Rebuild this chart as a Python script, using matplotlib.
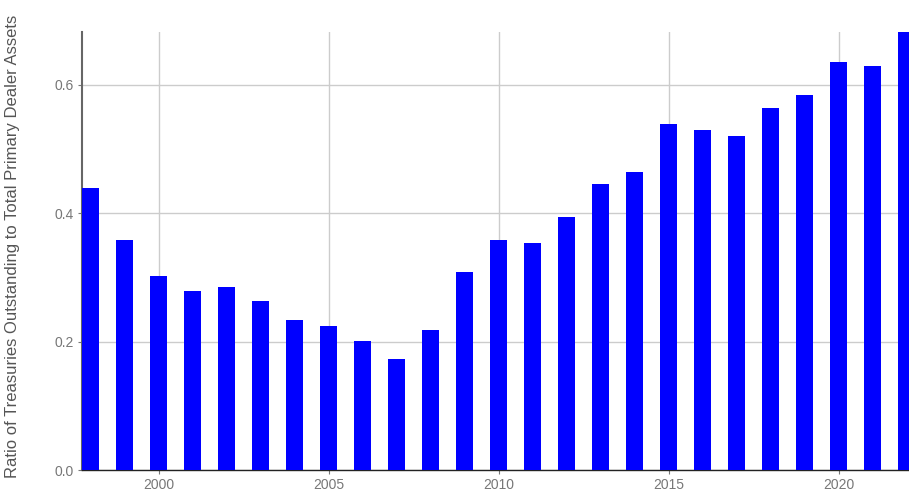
import numpy as np
import matplotlib
matplotlib.use("Agg")
import matplotlib.pyplot as plt

plt.rcParams["font.family"] = ["Liberation Sans", "DejaVu Sans"]

years = np.arange(1998, 2023)
ratio = [0.439, 0.358, 0.302, 0.279, 0.285, 0.263, 0.233, 0.224, 0.201, 0.173,
         0.218, 0.308, 0.358, 0.353, 0.394, 0.445, 0.464, 0.539, 0.529, 0.520,
         0.563, 0.584, 0.635, 0.629, 0.682]
xticks = [2000, 2005, 2010, 2015, 2020]
yticks = [0.0, 0.2, 0.4, 0.6]

fig = plt.figure(figsize=(9.09, 4.95), dpi=100)
ax = fig.add_axes([82/909, 25/495, 1 - 82/909, 438/495])

ax.bar(years, ratio, width=0.5, color="#0000ff", zorder=3)

ax.set_xlim(1997.75, 2022.06)
ax.set_ylim(0, 0.682)
ax.set_xticks(xticks)
ax.set_yticks(yticks)
ax.set_yticklabels(["0.0", "0.2", "0.4", "0.6"])
ax.grid(True, color="#cccccc", linewidth=1.0, zorder=0)

for s in ["top", "right"]:
    ax.spines[s].set_visible(False)
ax.spines["left"].set_color("#666666")
ax.spines["left"].set_linewidth(1.5)
ax.spines["bottom"].set_color("#222222")
ax.spines["bottom"].set_linewidth(1.0)
ax.tick_params(colors="#777777", labelsize=10, length=3, width=0.8)
ax.tick_params(axis="x", pad=3)
ax.tick_params(axis="y", pad=3)

ax.set_ylabel("Ratio of Treasuries Outstanding to Total Primary Dealer Assets",
              fontsize=12, color="#555555")
ax.yaxis.set_label_coords(-62/827, 0.51)

fig.savefig("out.png", dpi=100)
